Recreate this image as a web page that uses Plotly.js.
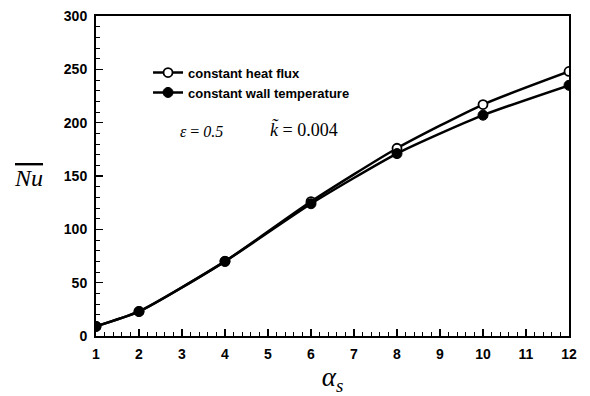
<!DOCTYPE html>
<html>
<head>
<meta charset="utf-8">
<script src="https://cdn.plot.ly/plotly-3.0.1.min.js"></script>
<style>html,body{margin:0;padding:0;background:#fff;}</style>
</head>
<body>
<div id="chart" style="width:590px;height:396px;"></div>
<script>
var alphaS = [1, 2, 4, 6, 8, 10, 12];
var nuHeatFlux = [9, 23, 70, 126, 176, 217, 248];
var nuWallTemp = [9, 23, 70, 124, 171, 207, 235];
var seriesNames = ['constant heat flux', 'constant wall temperature'];
var xTicks = [1, 2, 3, 4, 5, 6, 7, 8, 9, 10, 11, 12];
var yTicks = [0, 50, 100, 150, 200, 250, 300];

var traces = [
  {x: alphaS, y: nuHeatFlux, name: seriesNames[0], mode: 'lines+markers',
   line: {color: '#000', width: 2.5, shape: 'spline', smoothing: 0.6},
   marker: {symbol: 'circle', size: 9, color: '#fff', line: {color: '#000', width: 1.8}}},
  {x: alphaS, y: nuWallTemp, name: seriesNames[1], mode: 'lines+markers',
   line: {color: '#000', width: 2.5, shape: 'spline', smoothing: 0.6},
   marker: {symbol: 'circle', size: 10, color: '#000', line: {color: '#000', width: 1}}}
];

var tickFont = {family: 'Liberation Sans, Arial, sans-serif', size: 14, color: '#000', weight: 'bold'};

var layout = {
  width: 590, height: 396,
  margin: {l: 96, r: 21, t: 16, b: 60},
  paper_bgcolor: '#fff', plot_bgcolor: '#fff',
  showlegend: true,
  legend: {x: 0.11, y: 0.87, xanchor: 'left', yanchor: 'top', bgcolor: 'rgba(0,0,0,0)',
           font: {family: 'Liberation Sans, Arial, sans-serif', size: 13, color: '#000', weight: 'bold'},
           tracegroupgap: 0, itemwidth: 30},
  xaxis: {range: [1, 12], tickvals: xTicks, ticktext: xTicks.map(String), ticks: 'inside', ticklen: 7, tickwidth: 1.5,
          tickcolor: '#000', showline: true, linecolor: '#000', linewidth: 2, mirror: true, showgrid: false, zeroline: false,
          tickfont: tickFont, ticklabelstandoff: 4,
          minor: {dtick: 0.2, ticks: 'inside', ticklen: 4, tickwidth: 1, tickcolor: '#000', showgrid: false},
          title: {text: '<i>α<sub>s</sub></i>', font: {family: 'Liberation Serif, Times New Roman, serif', size: 27, color: '#000'}, standoff: 10}},
  yaxis: {range: [0, 300], tickvals: yTicks, ticktext: yTicks.map(String), ticks: 'inside', ticklen: 7, tickwidth: 1.5,
          tickcolor: '#000', showline: true, linecolor: '#000', linewidth: 2, mirror: true, showgrid: false, zeroline: false,
          tickfont: tickFont, ticklabelstandoff: 4,
          minor: {dtick: 10, ticks: 'inside', ticklen: 4, tickwidth: 1, tickcolor: '#000', showgrid: false}},
  annotations: [
    {xref: 'paper', yref: 'paper', x: (28 - 96) / 473, y: (336 - 178) / 320, xanchor: 'center', yanchor: 'middle', showarrow: false,
     text: '<span style="text-decoration:overline"><i>Nu</i></span>', font: {family: 'Liberation Serif, Times New Roman, serif', size: 24, color: '#000'}},
    {xref: 'paper', yref: 'paper', x: (201 - 96) / 473, y: (336 - 131) / 320, xanchor: 'center', yanchor: 'middle', showarrow: false,
     text: '<i>ε</i> = <i>0.5</i>', font: {family: 'Liberation Serif, Times New Roman, serif', size: 16, color: '#000'}},
    {xref: 'paper', yref: 'paper', x: (304 - 96) / 473, y: (336 - 129) / 320, xanchor: 'center', yanchor: 'middle', showarrow: false,
     text: '<i>k̃</i> = 0.004', font: {family: 'Liberation Serif, Times New Roman, serif', size: 18, color: '#000'}}
  ]
};

Plotly.newPlot('chart', traces, layout, {displayModeBar: false, staticPlot: true});
</script>
</body>
</html>
